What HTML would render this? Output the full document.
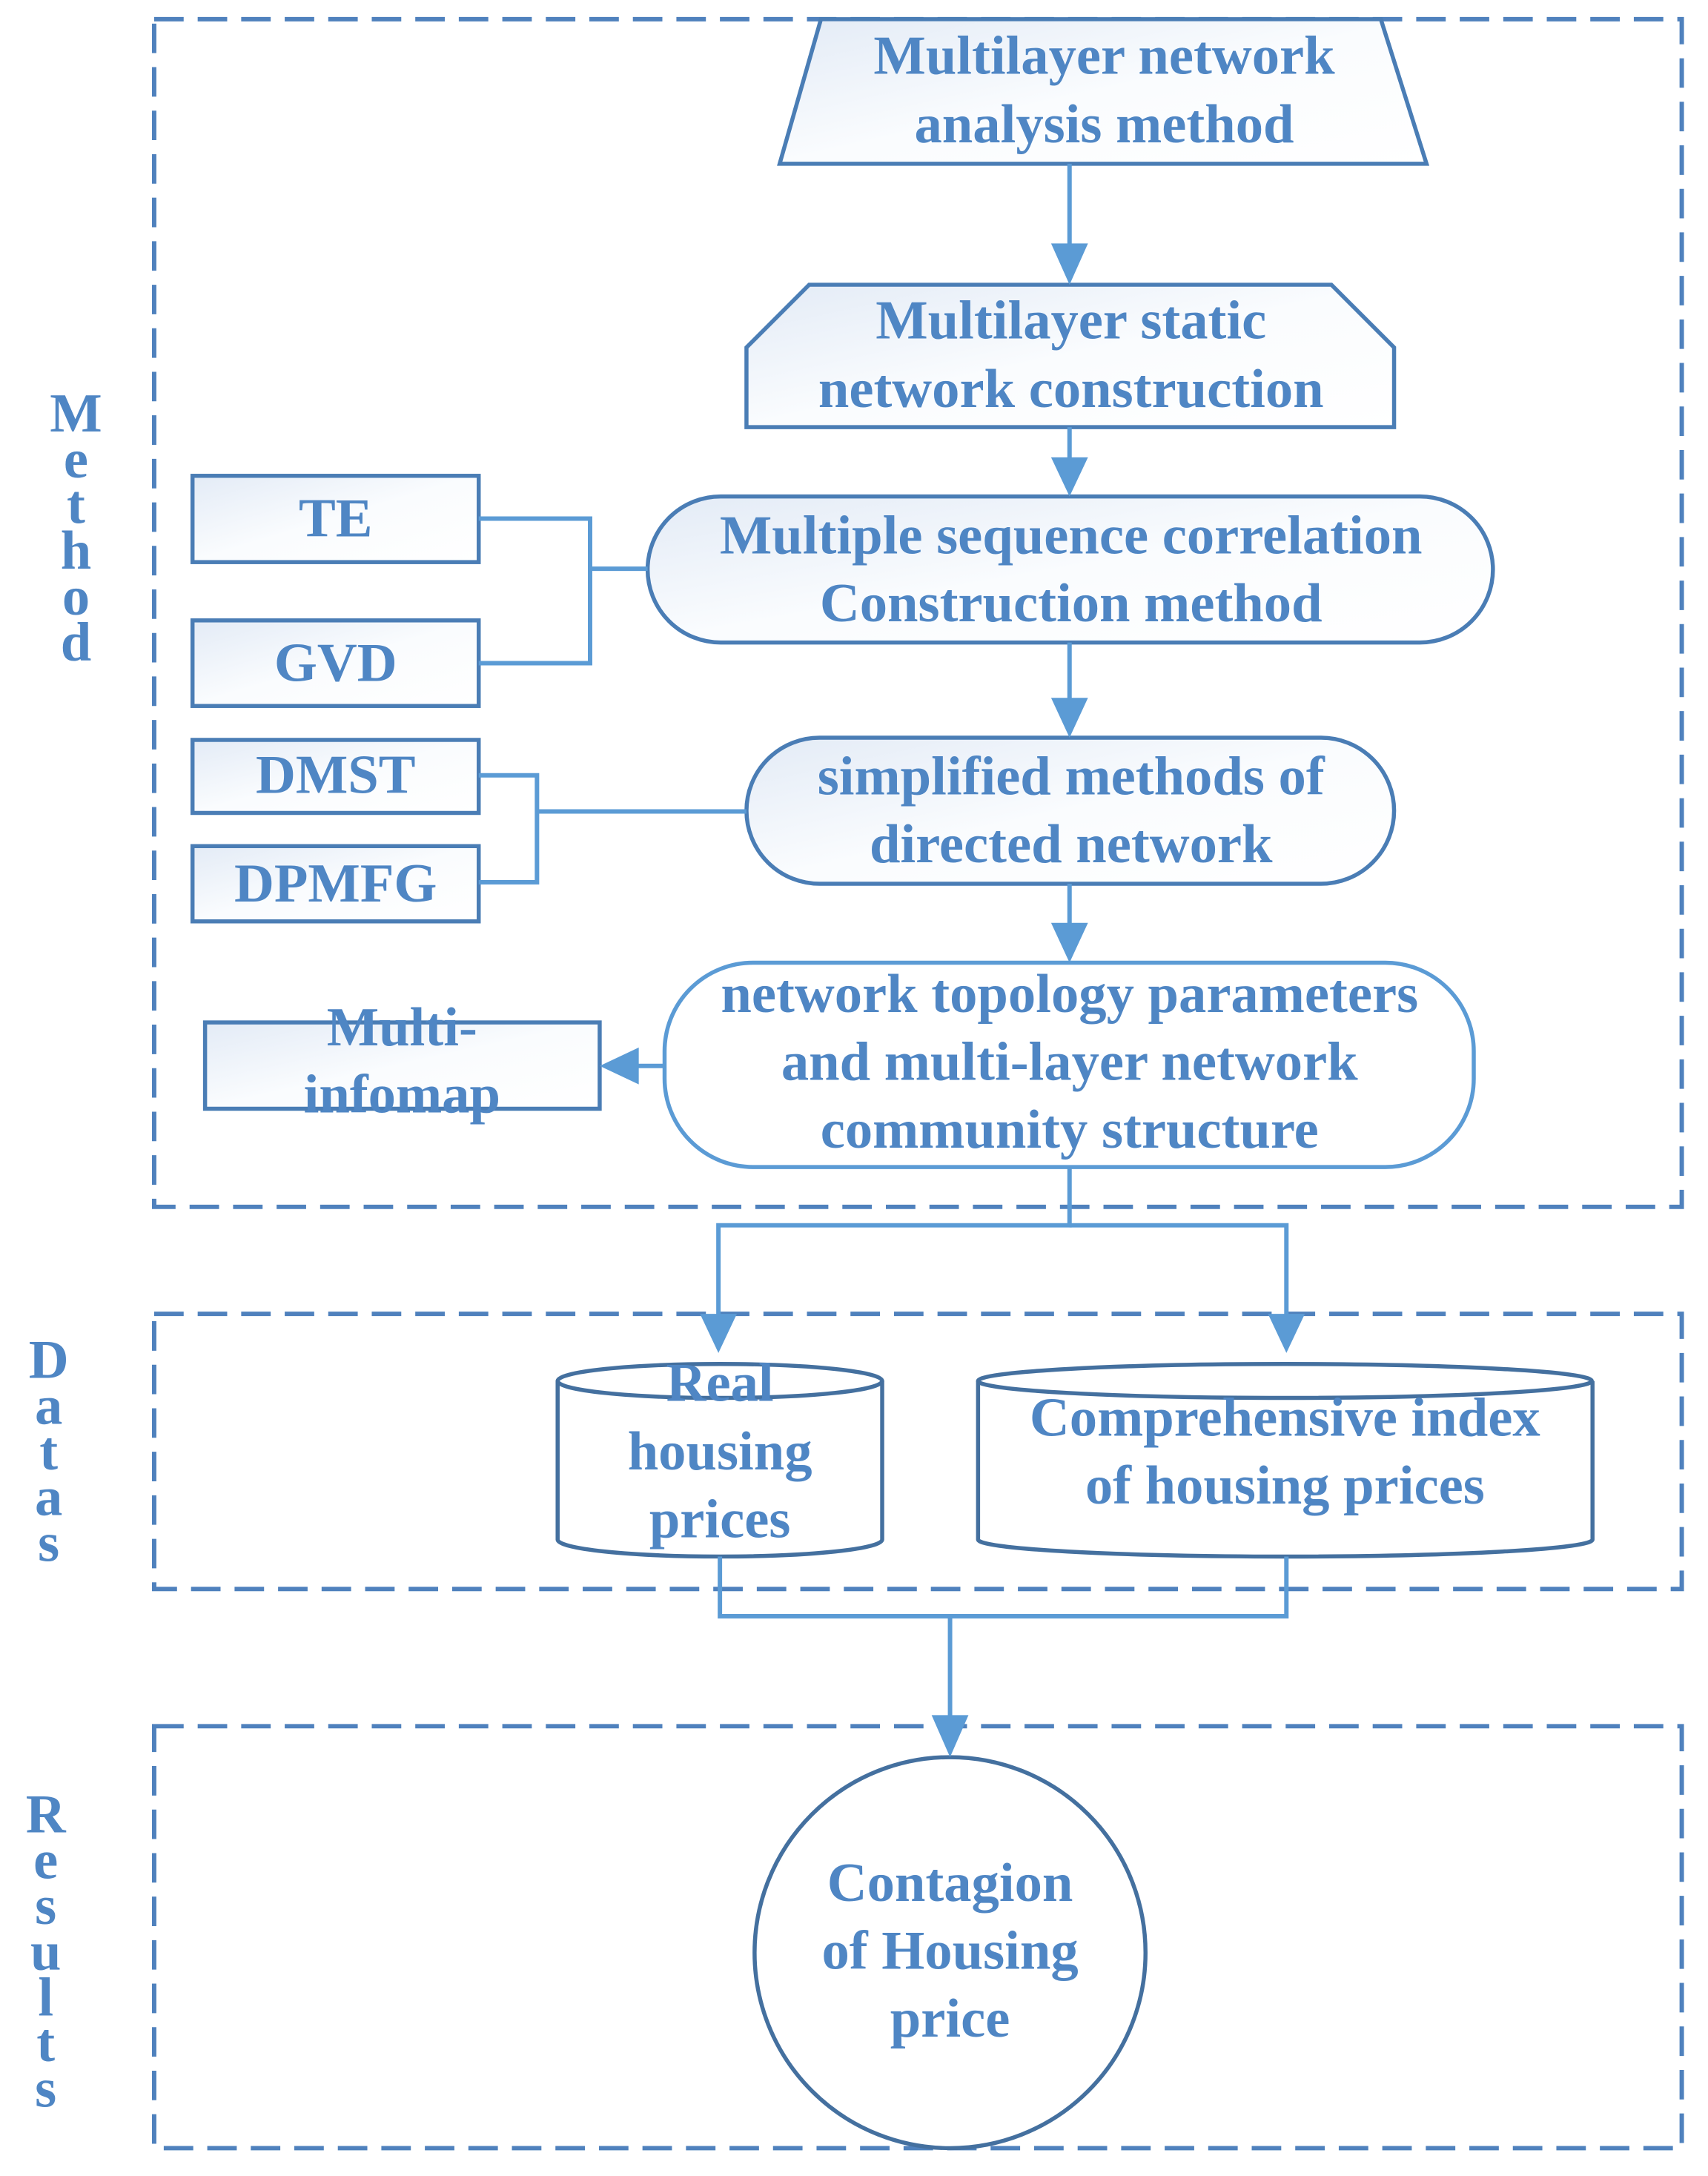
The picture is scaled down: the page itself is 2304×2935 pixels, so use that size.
<!DOCTYPE html>
<html><head><meta charset="utf-8"><style>
html,body{margin:0;padding:0;background:#fff}
svg{display:block}
text{font-family:"Liberation Serif",serif;font-weight:bold;fill:#4f86c4;font-size:75px;text-anchor:middle}
.v{font-size:74px}
</style></head><body>
<svg width="2304" height="2935" viewBox="0 0 2304 2935" xmlns="http://www.w3.org/2000/svg">
<defs>
<linearGradient id="g" x1="0" y1="0" x2="1" y2="1">
<stop offset="0" stop-color="#e3ebf6"/><stop offset="0.5" stop-color="#fafcfe"/><stop offset="1" stop-color="#ffffff"/>
</linearGradient>
</defs>
<g transform="scale(0.995)">
<g fill="none" stroke="#4f81bd" stroke-width="6" stroke-dasharray="40,19">
<rect x="209" y="26" width="2071" height="1610"/>
<rect x="209" y="1781" width="2071" height="373"/>
<rect x="209" y="2340" width="2071" height="572"/>
</g>
<g class="v">
<text x="103" y="585">M</text><text x="103" y="647">e</text><text x="103" y="709">t</text><text x="103" y="771">h</text><text x="103" y="833">o</text><text x="103" y="895">d</text>
<text x="66" y="1868">D</text><text x="66" y="1930">a</text><text x="66" y="1992">t</text><text x="66" y="2054">a</text><text x="66" y="2116">s</text>
<text x="62" y="2484">R</text><text x="62" y="2546">e</text><text x="62" y="2608">s</text><text x="62" y="2670">u</text><text x="62" y="2732">l</text><text x="62" y="2794">t</text><text x="62" y="2856">s</text>
</g>
<g stroke="#4a7db5" stroke-width="5.5" fill="url(#g)">
<polygon points="1113,26 1872,26 1934,222 1057,222"/>
<polygon points="1097,386 1805,386 1890,471 1890,579 1012,579 1012,471"/>
<rect x="878" y="673" width="1146" height="198" rx="99"/>
<rect x="261" y="645" width="388" height="117"/>
<rect x="261" y="841" width="388" height="116"/>
<rect x="1012" y="1000" width="878" height="198" rx="99"/>
<rect x="261" y="1003" width="388" height="99"/>
<rect x="261" y="1147" width="388" height="102"/>
<rect x="901" y="1305" width="1097" height="277" rx="120" fill="#fff" stroke="#5b9bd5"/>
<rect x="278" y="1386" width="535" height="117"/>
</g>
<g stroke="#44709f" stroke-width="5.5" fill="#fff">
<path d="M756,1872 L756,2087 A220,23 0 0 0 1196,2087 L1196,1872"/>
<ellipse cx="976" cy="1872" rx="220" ry="23"/>
<path d="M1326,1872 L1326,2087 A416,23 0 0 0 2159,2087 L2159,1872"/>
<ellipse cx="1742" cy="1872" rx="416" ry="23"/>
<circle cx="1288" cy="2647" r="265"/>
</g>
<g stroke="#5b9bd5" stroke-width="6" fill="none">
<line x1="1450" y1="222" x2="1450" y2="340"/>
<line x1="1450" y1="579" x2="1450" y2="630"/>
<line x1="1450" y1="871" x2="1450" y2="955"/>
<line x1="1450" y1="1198" x2="1450" y2="1262"/>
<polyline points="649,703 800,703 800,899 649,899"/>
<line x1="800" y1="771" x2="878" y2="771"/>
<polyline points="649,1051 728,1051 728,1196 649,1196"/>
<line x1="728" y1="1100" x2="1012" y2="1100"/>
<line x1="901" y1="1445" x2="860" y2="1445"/>
<polyline points="1450,1582 1450,1661 974,1661 974,1795"/>
<polyline points="1450,1661 1744,1661 1744,1795"/>
<polyline points="976,2110 976,2191 1744,2191 1744,2110"/>
<line x1="1288" y1="2191" x2="1288" y2="2335"/>
</g>
<g fill="#5b9bd5">
<polygon points="1425,330 1475,330 1450,386"/>
<polygon points="1425,620 1475,620 1450,673"/>
<polygon points="1425,946 1475,946 1450,1000"/>
<polygon points="1425,1251 1475,1251 1450,1305"/>
<polygon points="866,1420 866,1470 813,1445"/>
<polygon points="949,1781 999,1781 974,1834"/>
<polygon points="1719,1781 1769,1781 1744,1834"/>
<polygon points="1263,2325 1313,2325 1288,2382"/>
</g>
<text x="1497" y="100">Multilayer network</text>
<text x="1497" y="193">analysis method</text>
<text x="1452" y="459">Multilayer static</text>
<text x="1452" y="552">network construction</text>
<text x="1452" y="750">Multiple sequence correlation</text>
<text x="1452" y="842">Construction method</text>
<text x="455" y="727">TE</text>
<text x="455" y="923">GVD</text>
<text x="455" y="1075">DMST</text>
<text x="455" y="1222">DPMFG</text>
<text x="1452" y="1077">simplified methods of</text>
<text x="1452" y="1169">directed network</text>
<text x="1450" y="1372">network topology parameters</text>
<text x="1450" y="1464">and multi-layer network</text>
<text x="1450" y="1556">community structure</text>
<text x="545" y="1417">Multi-</text>
<text x="545" y="1508">infomap</text>
<text x="976" y="1899">Real</text>
<text x="976" y="1992">housing</text>
<text x="976" y="2084">prices</text>
<text x="1742" y="1946">Comprehensive index</text>
<text x="1742" y="2038">of housing prices</text>
<text x="1288" y="2577">Contagion</text>
<text x="1288" y="2669">of Housing</text>
<text x="1288" y="2761">price</text>
</g>
</svg>
</body></html>
